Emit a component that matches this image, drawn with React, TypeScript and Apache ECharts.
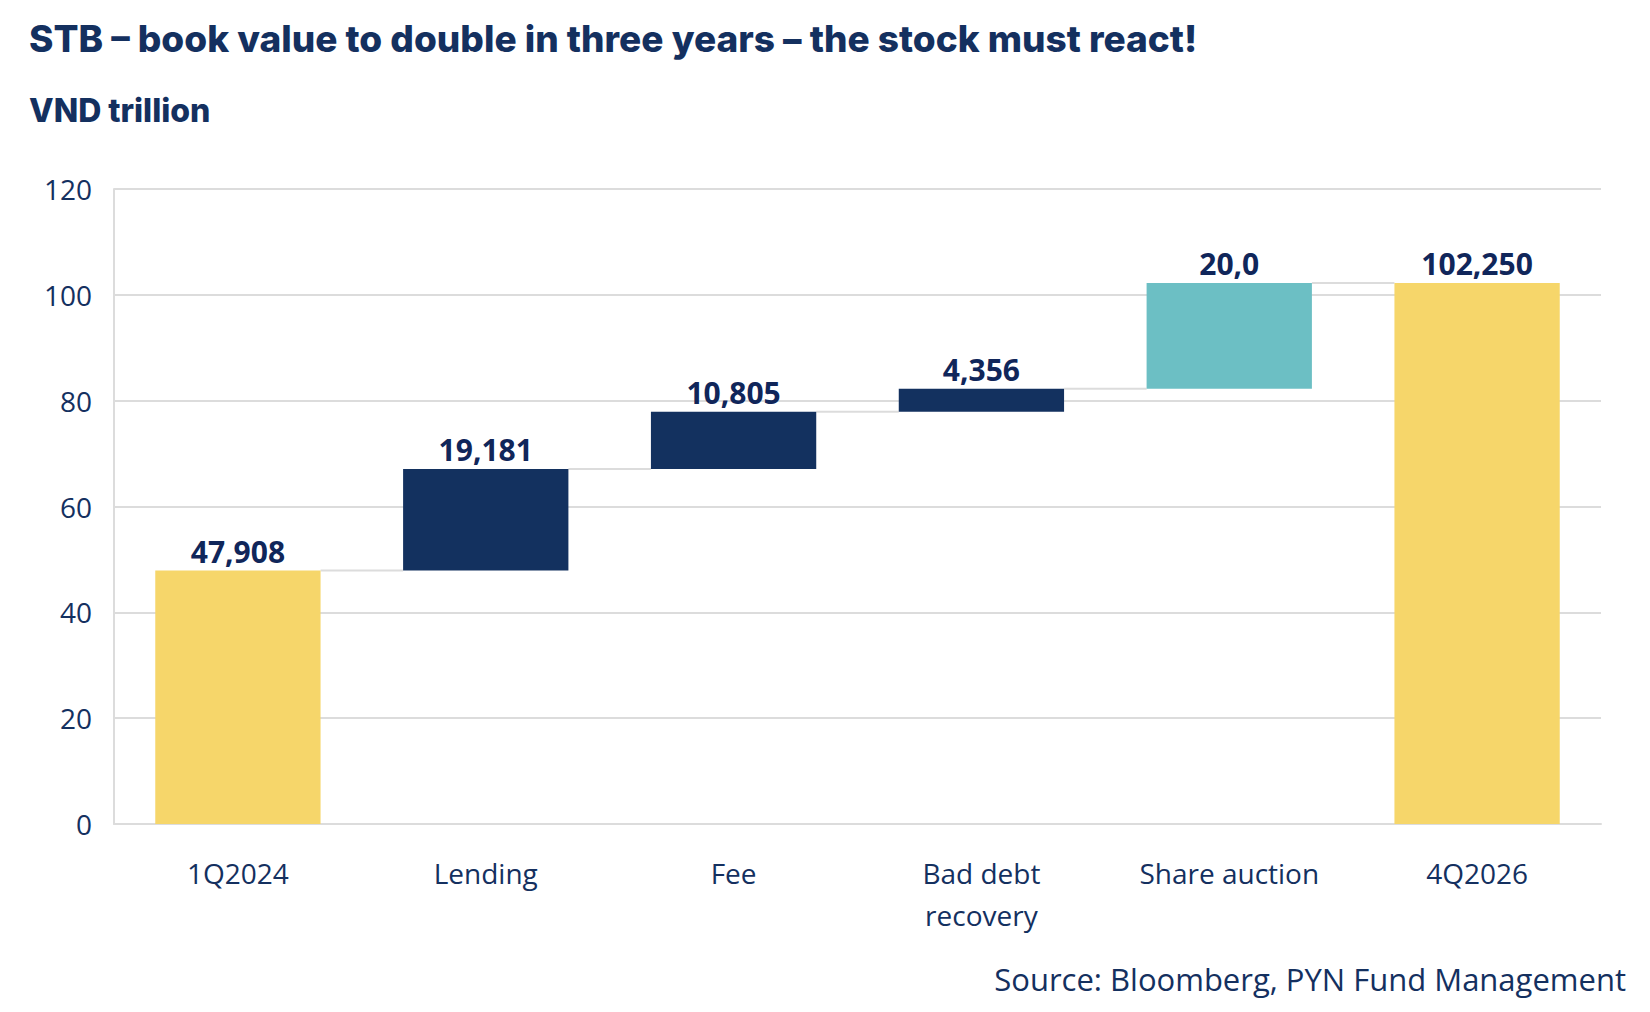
import React, { useEffect, useRef } from "react";
import * as echarts from "echarts";

const categories = ["1Q2024", "Lending", "Fee", "Bad debt\nrecovery", "Share auction", "4Q2026"];
const values = [47.908, 19.181, 10.805, 4.356, 20.0, 102.25];
const valueLabels = ["47,908", "19,181", "10,805", "4,356", "20,0", "102,250"];
const kinds = ["total", "delta", "delta", "delta", "auction", "total"];
const yTicks = { min: 0, max: 120, interval: 20 };

const TITLE = "STB \u2013 book value to double in three years \u2013 the stock must react!";
const SUBTITLE = "VND trillion";
const SOURCE = "Source: Bloomberg, PYN Fund Management";

const COLORS: Record<string, string> = {
  total: "#F6D66A",
  delta: "#13315F",
  auction: "#6CBFC4",
};
const TEXT = "#14305F";
const GRID = "#DCDCDC";

export default function App() {
  const ref = useRef<HTMLDivElement>(null);
  useEffect(() => {
    document.body.style.margin = "0";
    if (!ref.current) return;
    const chart = echarts.init(ref.current, undefined, { renderer: "svg" });

    // waterfall bases and levels
    const bases: number[] = [];
    const levels: number[] = [];
    let run = 0;
    values.forEach((v, i) => {
      if (kinds[i] === "total") {
        bases.push(0);
        run = v;
      } else {
        bases.push(run);
        run += v;
      }
      levels.push(run);
    });
    const connectorData = levels.slice(0, -1).map((l, i) => [i, l]);
    const barRatio = 0.667;

    chart.setOption({
      animation: false,
      textStyle: { fontFamily: "Open Sans" },
      title: [
        {
          text: TITLE,
          left: 24,
          top: 15,
          textStyle: { fontFamily: "Inter", fontWeight: 800, fontSize: 37, color: TEXT },
        },
        {
          text: SUBTITLE,
          left: 24,
          top: 89,
          textStyle: { fontFamily: "Inter", fontWeight: 800, fontSize: 32, color: TEXT },
        },
        {
          text: SOURCE,
          right: 19,
          top: 958,
          textStyle: { fontFamily: "Open Sans", fontWeight: 400, fontSize: 31, color: TEXT },
        },
      ],
      grid: { left: 114, right: 49, top: 189, bottom: 188, containLabel: false },
      xAxis: {
        type: "category",
        data: categories,
        axisTick: { show: false },
        axisLine: { show: true, lineStyle: { color: GRID, width: 2 } },
        axisLabel: {
          interval: 0,
          color: TEXT,
          fontSize: 28,
          lineHeight: 42,
          margin: 28,
          fontFamily: "Open Sans",
        },
      },
      yAxis: {
        type: "value",
        min: yTicks.min,
        max: yTicks.max,
        interval: yTicks.interval,
        axisLine: { show: true, lineStyle: { color: GRID, width: 2 } },
        axisTick: { show: false },
        splitLine: { lineStyle: { color: GRID, width: 2 } },
        axisLabel: { color: TEXT, fontSize: 28, margin: 22, fontFamily: "Open Sans" },
      },
      series: [
        {
          type: "bar",
          stack: "wf",
          data: bases,
          itemStyle: { color: "transparent" },
          barCategoryGap: "33.3%",
          silent: true,
        },
        {
          type: "bar",
          stack: "wf",
          barCategoryGap: "33.3%",
          data: values.map((v, i) => ({ value: v, itemStyle: { color: COLORS[kinds[i]] } })),
          label: {
            show: true,
            position: "top",
            distance: 4,
            color: "#10265A",
            fontSize: 30,
            fontWeight: "bold",
            fontFamily: "Open Sans",
            formatter: (p: any) => valueLabels[p.dataIndex],
          },
        },
        {
          type: "custom",
          data: connectorData,
          z: 1,
          renderItem: (params: any, api: any) => {
            const p = api.coord([api.value(0), api.value(1)]);
            const band = api.size([1, 0])[0];
            const half = (band * barRatio) / 2;
            return {
              type: "line",
              shape: { x1: p[0] + half, y1: p[1], x2: p[0] + band - half, y2: p[1] },
              style: { stroke: GRID, lineWidth: 2 },
            };
          },
        },
      ],
    });
    return () => chart.dispose();
  }, []);
  return <div ref={ref} style={{ width: 1650, height: 1012 }} />;
}
